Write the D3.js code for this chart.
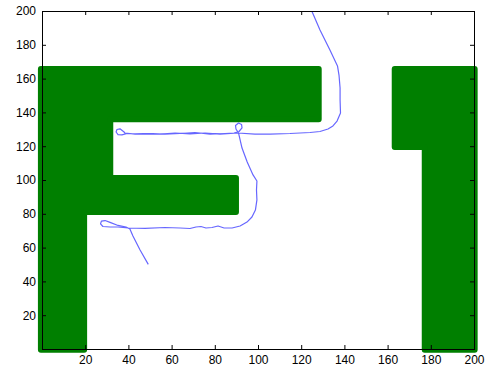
<!DOCTYPE html>
<html>
<head>
<meta charset="utf-8">
<script src="https://cdn.jsdelivr.net/npm/d3@7"></script>
<style>
  body { margin: 0; background: #fff; }
  svg { display: block; }
  .tick text { font-family: "Liberation Sans", Arial, sans-serif; font-size: 12px; fill: #000; }
</style>
</head>
<body>
<div id="chart"></div>
<script>
// tick values
const xTicks = [20, 40, 60, 80, 100, 120, 140, 160, 180, 200]
const yTicks = [20, 40, 60, 80, 100, 120, 140, 160, 180, 200]

// green "F" outline, data units
const letterF = [
  [-0.5, -0.5], [19.5, -0.5], [19.5, 81], [89.8, 81], [89.8, 101.2],
  [31.6, 101.2], [31.6, 136], [128.1, 136], [128.1, 165.7], [-0.5, 165.7]
]

// green "1" outline
const letterOne = [
  [163.3, 165.7], [200.3, 165.7], [200.3, -0.5], [177.2, -0.5],
  [177.2, 119.5], [163.3, 119.5]
]

// blue trajectory
const path = [
  [49.2, 50.1], [45.4, 58.6], [42.1, 66.9], [40.7, 71.0], [38.9, 72.2],
  [35.2, 73.1], [31.5, 74.9], [29.2, 76.0], [27.5, 75.7], [27.1, 74.0],
  [28.2, 72.5], [31.5, 72.2], [35.2, 72.2], [39.8, 71.6], [47.7, 71.4],
  [56.9, 71.9], [63.9, 71.6], [68.5, 71.3], [71.3, 72.2], [73.6, 72.5],
  [75.9, 71.6], [78.7, 71.9], [81.5, 72.8], [84.3, 71.6], [88.0, 71.6],
  [91.7, 72.8], [94.9, 75.1], [97.2, 78.1], [98.8, 82.2], [99.5, 88.2],
  [99.3, 94.1], [99.5, 99.4], [97.7, 103], [95, 110.7], [92.6, 118.9],
  [91, 127.8], [90.7, 128.4], [89.8, 130.2], [89.6, 132.2], [91, 133.7],
  [92.4, 132.8], [92.6, 130.8], [91.2, 128.7], [88.9, 127.8],
  [84.7, 127.5], [77.8, 127.2], [70.8, 128.1], [63.9, 127.5], [56.9, 127.2],
  [50, 127.5], [43.1, 127.2], [38.4, 127.8], [38, 128.4], [36.1, 130.3],
  [34.7, 129.9], [34.3, 128.4], [35.2, 126.9], [37, 126.7], [39.4, 127.5],
  [45.4, 127.3], [54.6, 127.2], [61.6, 127.8], [68.5, 127.3], [75.5, 127.8],
  [82.4, 127.2], [90.7, 127.8], [98.6, 127.2], [105.6, 127.2], [114.8, 127.5],
  [124.1, 128.1], [128.7, 128.7], [132.4, 130.2], [134.7, 132], [136.6, 134.9],
  [138.2, 139.6], [138, 147.3], [138, 154.4], [137.5, 162.1], [136.8, 167.5],
  [133.3, 176.9], [128.7, 188.8], [124.9, 200], [123.5, 204]
]

const width = 487
const height = 369

const x = d3.scaleLinear().domain([0, 200]).range([42, 474])
const y = d3.scaleLinear().domain([0, 200]).range([349, 11])

const svg = d3.select('#chart')
  .append('svg')
  .attr('width', width)
  .attr('height', height)

svg.append('defs').append('clipPath')
  .attr('id', 'plot')
  .append('rect')
  .attr('x', x(0)).attr('y', y(200))
  .attr('width', x(200) - x(0)).attr('height', y(0) - y(200))

const line = d3.line().x(d => x(d[0])).y(d => y(d[1]))
const shape = d3.line().x(d => x(d[0])).y(d => y(d[1])).curve(d3.curveLinearClosed)

svg.selectAll('path.letter')
  .data([letterF, letterOne])
  .enter()
    .append('path')
    .attr('class', 'letter')
    .attr('d', shape)
    .attr('fill', '#007f00')
    .attr('stroke', '#007f00')
    .attr('stroke-width', 6)
    .attr('stroke-linejoin', 'round')

svg.append('path')
  .attr('d', line(path))
  .attr('clip-path', 'url(#plot)')
  .attr('fill', 'none')
  .attr('stroke', '#0000ff')
  .attr('stroke-opacity', 0.6)
  .attr('stroke-width', 1.2)
  .attr('stroke-linejoin', 'round')

// axes, ticks pointing inward like matlab
svg.append('g')
  .attr('transform', `translate(0,${y(0)})`)
  .call(d3.axisBottom(x).tickValues(xTicks).tickSizeInner(-4).tickSizeOuter(0).tickPadding(6))
  .call(g => g.select('.domain').remove())

svg.append('g')
  .attr('transform', `translate(${x(0)},0)`)
  .call(d3.axisLeft(y).tickValues(yTicks).tickSizeInner(-4).tickSizeOuter(0).tickPadding(6))
  .call(g => g.select('.domain').remove())

svg.append('g')
  .attr('transform', `translate(0,${y(200)})`)
  .call(d3.axisTop(x).tickValues(xTicks.slice(0, -1)).tickSizeInner(-4).tickSizeOuter(0).tickFormat(''))
  .call(g => g.select('.domain').remove())

svg.append('g')
  .attr('transform', `translate(${x(200)},0)`)
  .call(d3.axisRight(y).tickValues(yTicks.slice(0, -1)).tickSizeInner(-4).tickSizeOuter(0).tickFormat(''))
  .call(g => g.select('.domain').remove())

svg.append('rect')
  .attr('x', x(0) + 0.5)
  .attr('y', y(200) + 0.5)
  .attr('width', x(200) - x(0))
  .attr('height', y(0) - y(200))
  .attr('fill', 'none')
  .attr('stroke', '#000')
  .attr('stroke-width', 1)
</script>
</body>
</html>
